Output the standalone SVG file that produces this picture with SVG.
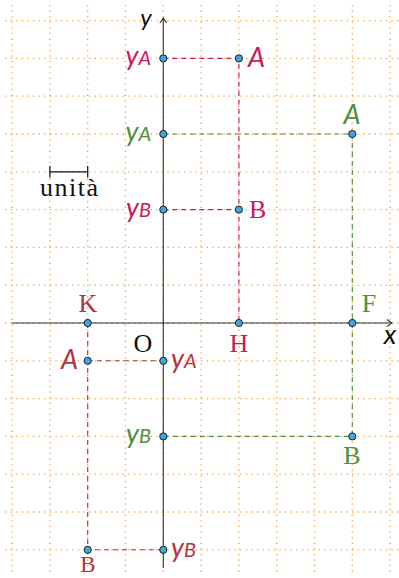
<svg xmlns="http://www.w3.org/2000/svg" width="399" height="578" viewBox="0 0 399 578">
<style>
.grid{stroke:#f6a23a;stroke-width:1.3;stroke-dasharray:1.3 4.3;fill:none}
.axis{stroke:#333;stroke-width:1.1;fill:none}
.dash{stroke-width:1.1;stroke-dasharray:5 4;fill:none}
.mg{stroke:#c8195a}.gr{stroke:#4d8f3c}.br{stroke:#b3333d}
.tmg{fill:#c8195a}.tgr{fill:#4d8f3c}.tbr{fill:#b3333d}
.pt{fill:#3ba7de;stroke:#111;stroke-width:0.9}
.up{font-family:"Liberation Serif","Times New Roman",serif;font-size:26px}
.m{font-family:Lato,"Noto Sans",sans-serif;font-style:italic;font-size:27px}
.s{font-size:20px}
</style>
<defs>
<marker id="arr" markerWidth="10" markerHeight="10" refX="7" refY="5" orient="auto" markerUnits="userSpaceOnUse">
<path d="M2,1.5 Q5,4 7,5 Q5,6 2,8.5" fill="none" stroke="#333" stroke-width="1.1"/>
</marker>
</defs>
<g id="grid">
<path class="grid" d="M12.1,5V575M49.9,5V575M87.7,5V575M125.5,5V575M163.3,5V575M201.1,5V575M238.9,5V575M276.7,5V575M314.5,5V575M352.3,5V575M390.1,5V575"/>
<path class="grid" d="M5,20.6H399M5,58.4H399M5,96.2H399M5,134H399M5,171.8H399M5,209.6H399M5,247.4H399M5,285.2H399M5,323H399M5,360.8H399M5,398.6H399M5,436.4H399M5,474.2H399M5,512H399M5,549.8H399"/>
</g>
<g id="connectors">
<path class="axis" d="M12,323H392" marker-end="url(#arr)"/>
<path class="axis" d="M163.3,568V18" marker-end="url(#arr)"/>
<path class="dash mg" d="M163.3,58.4H238.9V323M163.3,209.6H238.9"/>
<path class="dash gr" d="M163.3,134H352.3V436.4H163.3"/>
<path class="dash br" d="M87.7,323V549.8H163.3M87.7,360.8H163.3"/>
</g>
<g id="unit">
<path d="M49.9,171.8H87.7M49.9,166V177.6M87.7,166V177.6" stroke="#111" stroke-width="1.2" fill="none"/>
<text class="up" x="69" y="196" text-anchor="middle" fill="#111" textLength="58">unità</text>
</g>
<g id="axis-labels">
<text class="m" x="146" y="26" text-anchor="middle" fill="#111" style="font-size:24px">y</text>
<text class="m" x="390" y="344" text-anchor="middle" fill="#111">x</text>
<text class="up" x="143" y="352" text-anchor="middle" fill="#111">O</text>
</g>
<g id="yA-top"><circle class="pt" cx="163.3" cy="58.4" r="3.6"/><text class="m tmg" x="151" y="65" text-anchor="end">y<tspan class="s">A</tspan></text></g>
<g id="A-top"><circle class="pt" cx="238.9" cy="58.4" r="3.6"/><text class="m tmg" x="248" y="67">A</text></g>
<g id="yA-green"><circle class="pt" cx="163.3" cy="134" r="3.6"/><text class="m tgr" x="151" y="141" text-anchor="end">y<tspan class="s">A</tspan></text></g>
<g id="A-green"><circle class="pt" cx="352.3" cy="134" r="3.6"/><text class="m tgr" x="352" y="124" text-anchor="middle">A</text></g>
<g id="yB-top"><circle class="pt" cx="163.3" cy="209.6" r="3.6"/><text class="m tmg" x="151" y="217" text-anchor="end">y<tspan class="s">B</tspan></text></g>
<g id="B-top"><circle class="pt" cx="238.9" cy="209.6" r="3.6"/><text class="up tmg" x="249" y="218">B</text></g>
<g id="K"><circle class="pt" cx="87.7" cy="323" r="3.6"/><text class="up tbr" x="88" y="312" text-anchor="middle">K</text></g>
<g id="H"><circle class="pt" cx="238.9" cy="323" r="3.6"/><text class="up tmg" x="239" y="352" text-anchor="middle">H</text></g>
<g id="F"><circle class="pt" cx="352.3" cy="323" r="3.6"/><text class="up tgr" x="369" y="312" text-anchor="middle">F</text></g>
<g id="A-low"><circle class="pt" cx="87.7" cy="360.8" r="3.6"/><text class="m tbr" x="78" y="369" text-anchor="end">A</text></g>
<g id="yA-low"><circle class="pt" cx="163.3" cy="360.8" r="3.6"/><text class="m tbr" x="171" y="368">y<tspan class="s">A</tspan></text></g>
<g id="yB-green"><circle class="pt" cx="163.3" cy="436.4" r="3.6"/><text class="m tgr" x="151" y="443" text-anchor="end">y<tspan class="s">B</tspan></text></g>
<g id="B-green"><circle class="pt" cx="352.3" cy="436.4" r="3.6"/><text class="up tgr" x="352" y="464" text-anchor="middle">B</text></g>
<g id="B-low"><circle class="pt" cx="87.7" cy="549.8" r="3.6"/><text class="up tbr" x="88" y="572" text-anchor="middle" style="font-size:23px">B</text></g>
<g id="yB-low"><circle class="pt" cx="163.3" cy="549.8" r="3.6"/><text class="m tbr" x="171" y="557">y<tspan class="s">B</tspan></text></g>
</svg>
